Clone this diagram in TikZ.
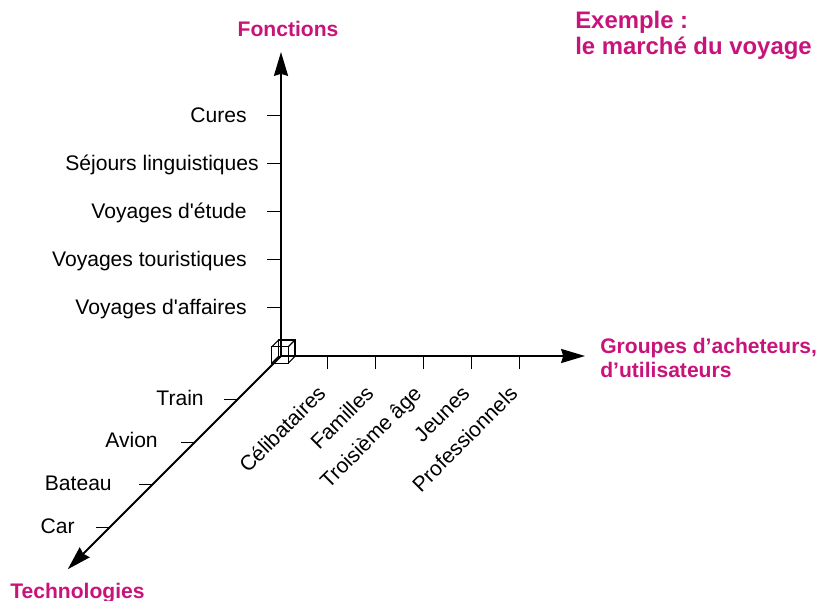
\documentclass[tikz,border=0pt]{standalone}
\usepackage{fontspec}
\setmainfont{Liberation Sans}
\usetikzlibrary{arrows.meta}
\definecolor{voyagepink}{RGB}{200,20,122}

\begin{document}
\begin{tikzpicture}[
    lab/.style={inner sep=0pt, font=\fontsize{15}{17}\selectfont},
    axlabel/.style={inner sep=0pt, text=voyagepink, align=left, font=\fontsize{15}{17}\selectfont\bfseries},
    axis/.style={line width=1.3pt, -{Stealth[length=17pt, width=10pt, inset=1.5pt]}},
    tickmark/.style={line width=0.7pt},
    cube/.style={line width=0.8pt}]
      \useasboundingbox (-7.025,-6.1) rectangle (13.425,8.9);

      \coordinate (O) at (0,0);
      \coordinate (fTip) at (0,7.6);
      \coordinate (gTip) at (7.6,0);
      \coordinate (tTip) at (-5.33,-5.33);

      \draw[axis] (O) -- (fTip);
      \draw[axis] (O) -- (gTip);
      \draw[axis] (O) -- (tTip);

      \draw[cube] (-0.23,-0.18) rectangle (0.18,0.23);
      \draw[cube] (-0.06,-0.01) rectangle (0.35,0.40);
      \draw[cube] (-0.23,-0.18) -- (-0.06,-0.01);
      \draw[cube] (0.18,-0.18) -- (0.35,-0.01);
      \draw[cube] (0.18,0.23) -- (0.35,0.40);
      \draw[cube] (-0.23,0.23) -- (-0.06,0.40);

      \draw[tickmark] (-0.35,6.025) -- (0,6.025);
      \draw[tickmark] (-0.35,4.825) -- (0,4.825);
      \draw[tickmark] (-0.35,3.625) -- (0,3.625);
      \draw[tickmark] (-0.35,2.425) -- (0,2.425);
      \draw[tickmark] (-0.35,1.225) -- (0,1.225);

      \node[lab, anchor=base east] (cures) at (-0.85,5.84) {Cures};
      \node[lab, anchor=base east] (sejours) at (-0.55,4.64) {Séjours linguistiques};
      \node[lab, anchor=base east] (etude) at (-0.85,3.44) {Voyages d\textquotesingle étude};
      \node[lab, anchor=base east] (touristiques) at (-0.85,2.24) {Voyages touristiques};
      \node[lab, anchor=base east] (affaires) at (-0.85,1.04) {Voyages d\textquotesingle affaires};

      \draw[tickmark] (1.15,0) -- (1.15,-0.325);
      \draw[tickmark] (2.35,0) -- (2.35,-0.325);
      \draw[tickmark] (3.55,0) -- (3.55,-0.325);
      \draw[tickmark] (4.75,0) -- (4.75,-0.325);
      \draw[tickmark] (5.95,0) -- (5.95,-0.325);

      \node[lab, rotate=45, anchor=base east] (celibataires) at (1.15,-0.975) {Célibataires};
      \node[lab, rotate=45, anchor=base east] (familles) at (2.35,-0.975) {Familles};
      \node[lab, rotate=45, anchor=base east] (troisieme) at (3.55,-0.975) {Troisième âge};
      \node[lab, rotate=45, anchor=base east] (jeunes) at (4.75,-0.975) {Jeunes};
      \node[lab, rotate=45, anchor=base east] (professionnels) at (5.95,-0.975) {Professionnels};

      \draw[tickmark] (-1.075,-1.075) -- (-1.425,-1.075);
      \draw[tickmark] (-2.15,-2.15) -- (-2.5,-2.15);
      \draw[tickmark] (-3.2,-3.2) -- (-3.55,-3.2);
      \draw[tickmark] (-4.275,-4.275) -- (-4.625,-4.275);

      \node[lab, anchor=base east] (train) at (-1.925,-1.225) {Train};
      \node[lab, anchor=base east] (avion) at (-3.075,-2.275) {Avion};
      \node[lab, anchor=base east] (bateau) at (-4.225,-3.35) {Bateau};
      \node[lab, anchor=base east] (car) at (-5.15,-4.425) {Car};

      \node[axlabel, anchor=base] (fonctions) at (0.175,8.0) {Fonctions};
      \node[axlabel, anchor=north west] (groupes) at (7.975,0.45) {Groupes d’acheteurs,\\d’utilisateurs};
      \node[axlabel, anchor=base west] (technologies) at (-6.775,-6.05) {Technologies};
      \node[axlabel, anchor=north west, font=\fontsize{17}{18.5}\selectfont\bfseries] (exemple) at (7.35,8.62) {Exemple :\\le marché du voyage};
    \end{tikzpicture}
\end{document}
